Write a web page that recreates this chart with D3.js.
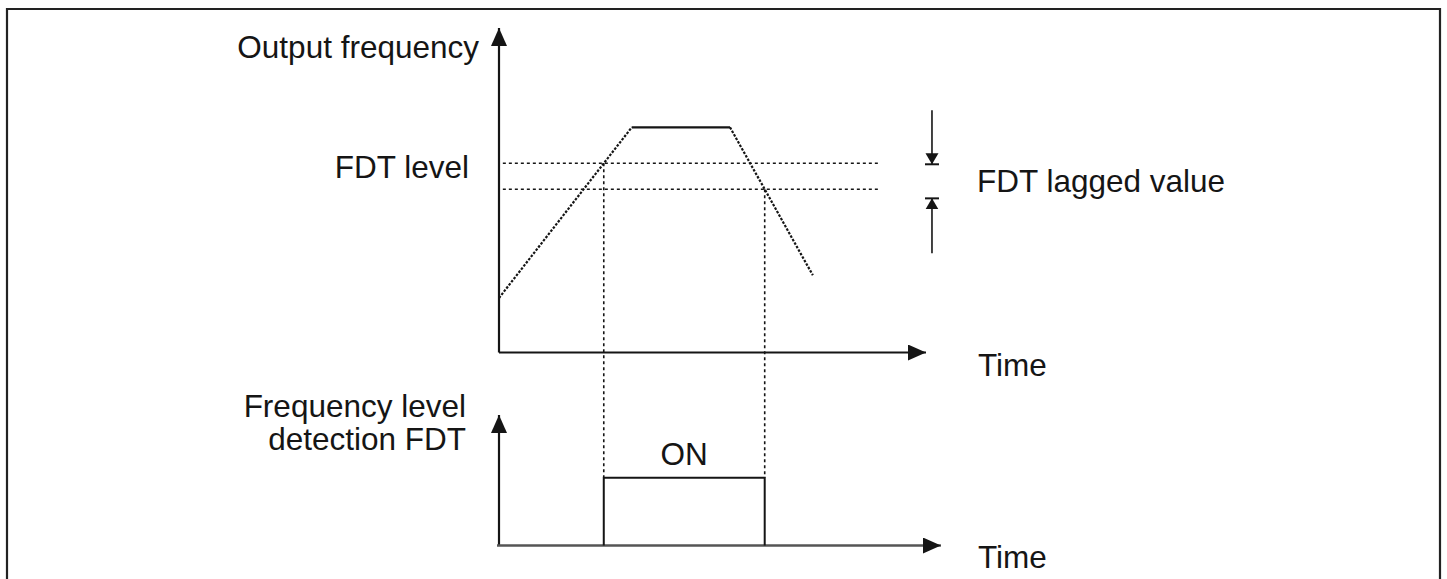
<!DOCTYPE html>
<html>
<head>
<meta charset="utf-8">
<script src="https://cdn.jsdelivr.net/npm/d3@7"></script>
<style>
  html, body { margin: 0; padding: 0; background: #fff; }
  svg { display: block; }
</style>
</head>
<body>
<svg id="chart"></svg>
<script>
// output frequency profile (time, frequency in %)
const freqTime = [0, 31.1, 54.1, 73.5];
const freqValue = [16.8, 69.4, 69.4, 23.8];
const fdtLevel = 58.3;
const fdtLagged = 50.3;
const levelLineSpan = [0.9, 89.2];
const laggedMarks = [58.0, 47.5];   // where the lag arrows stop
const onLevel = 0.52;

const labels = {
  yTop: 'Output frequency',
  fdt: 'FDT level',
  lag: 'FDT lagged value',
  time: 'Time',
  yBottom: ['Frequency level', 'detection FDT'],
  on: 'ON'
};

const width = 1447;
const height = 579;
const ink = '#151515';

const svg = d3.select('#chart')
  .attr('width', width)
  .attr('height', height)
  .attr('viewBox', [0, 0, width, height]);

const x = d3.scaleLinear().domain([0, 100]).range([499, 926]);
const y = d3.scaleLinear().domain([0, 100]).range([352.5, 28]);
const yOn = d3.scaleLinear().domain([0, 1]).range([545.5, 415]);

// frame
svg.append('path')
  .attr('d', `M7,${height + 5}V9H1440V${height + 5}`)
  .attr('fill', 'none')
  .attr('stroke', '#222')
  .attr('stroke-width', 2.2);

const defs = svg.append('defs');
defs.append('marker')
  .attr('id', 'head')
  .attr('markerUnits', 'userSpaceOnUse')
  .attr('viewBox', '0 -8 18 16')
  .attr('refX', 18).attr('refY', 0)
  .attr('markerWidth', 18).attr('markerHeight', 16)
  .attr('orient', 'auto')
  .append('path')
  .attr('d', 'M0,-8L18,0L0,8Z')
  .attr('fill', ink);
defs.append('marker')
  .attr('id', 'small')
  .attr('markerUnits', 'userSpaceOnUse')
  .attr('viewBox', '0 -7 11 14')
  .attr('refX', 11).attr('refY', 0)
  .attr('markerWidth', 11).attr('markerHeight', 14)
  .attr('orient', 'auto')
  .append('path')
  .attr('d', 'M0,-6.5L11,0L0,6.5Z')
  .attr('fill', ink);

// axes
const axisLine = (x1, y1, x2, y2, color, w) => svg.append('line')
  .attr('x1', x1).attr('y1', y1).attr('x2', x2).attr('y2', y2)
  .attr('stroke', color).attr('stroke-width', w)
  .attr('marker-end', 'url(#head)');

axisLine(x(0), y(0), x(0), y(100), ink, 2.2);
axisLine(x(0), y(0), x(100), y(0), ink, 2.2);
axisLine(x(0), yOn(0), x(0), yOn(1), ink, 2.2);
axisLine(x(0) - 2, yOn(0), x(103.5), yOn(0), '#555', 2.6);

// FDT level lines
svg.append('g')
  .selectAll('line')
  .data([fdtLevel, fdtLagged])
  .join('line')
  .attr('x1', x(levelLineSpan[0]))
  .attr('x2', x(levelLineSpan[1]))
  .attr('y1', d => y(d))
  .attr('y2', d => y(d))
  .attr('stroke', ink)
  .attr('stroke-width', 1.6)
  .attr('stroke-dasharray', '3,3');

// frequency profile: ramps dotted, plateau solid
const pts = freqTime.map((t, i) => [x(t), y(freqValue[i])]);
const line = d3.line();
[[0, 1], [2, 3]].forEach(([a, b]) => {
  svg.append('path')
    .attr('d', line([pts[a], pts[b]]))
    .attr('fill', 'none')
    .attr('stroke', ink)
    .attr('stroke-width', 2.2)
    .attr('stroke-dasharray', '2.5,1.5');
});
svg.append('path')
  .attr('d', line([pts[1], pts[2]]))
  .attr('fill', 'none')
  .attr('stroke', ink)
  .attr('stroke-width', 2.2);

// crossing times
const cross = (i, level) => freqTime[i] +
  (freqTime[i + 1] - freqTime[i]) * (level - freqValue[i]) / (freqValue[i + 1] - freqValue[i]);
const tOn = cross(0, fdtLevel);
const tOff = cross(2, fdtLagged);

// projection lines
svg.append('g')
  .selectAll('line')
  .data([[tOn, fdtLevel], [tOff, fdtLagged]])
  .join('line')
  .attr('x1', d => x(d[0]))
  .attr('x2', d => x(d[0]))
  .attr('y1', d => y(d[1]))
  .attr('y2', yOn(onLevel))
  .attr('stroke', ink)
  .attr('stroke-width', 1.6)
  .attr('stroke-dasharray', '3,3');

// ON pulse
svg.append('path')
  .attr('d', line([[x(tOn), yOn(0)], [x(tOn), yOn(onLevel)], [x(tOff), yOn(onLevel)], [x(tOff), yOn(0)]]))
  .attr('fill', 'none')
  .attr('stroke', ink)
  .attr('stroke-width', 2);

// lagged value indicator
const xl = x(101.4);
svg.append('line')
  .attr('x1', xl).attr('x2', xl)
  .attr('y1', y(laggedMarks[0]) - 54).attr('y2', y(laggedMarks[0]))
  .attr('stroke', ink).attr('stroke-width', 1.6)
  .attr('marker-end', 'url(#small)');
svg.append('line')
  .attr('x1', xl).attr('x2', xl)
  .attr('y1', y(laggedMarks[1]) + 55).attr('y2', y(laggedMarks[1]))
  .attr('stroke', ink).attr('stroke-width', 1.6)
  .attr('marker-end', 'url(#small)');
svg.append('g')
  .selectAll('line')
  .data(laggedMarks)
  .join('line')
  .attr('x1', xl - 7).attr('x2', xl + 7)
  .attr('y1', d => y(d)).attr('y2', d => y(d))
  .attr('stroke', ink).attr('stroke-width', 2);

// labels
const font = 'Arial, "Liberation Sans", sans-serif';
const text = (str, tx, ty, anchor) => svg.append('text')
  .attr('x', tx).attr('y', ty)
  .attr('text-anchor', anchor || 'start')
  .attr('font-family', font)
  .attr('font-size', 31.5)
  .attr('fill', ink)
  .text(str);

text(labels.yTop, 479, 58, 'end');
text(labels.fdt, 469, 178, 'end');
text(labels.lag, 977, 192);
text(labels.time, 978, 376);
text(labels.time, 978, 568);
text(labels.on, (x(tOn) + x(tOff)) / 2, 465, 'middle');

svg.append('text')
  .attr('text-anchor', 'end')
  .attr('font-family', font)
  .attr('font-size', 31.5)
  .attr('fill', ink)
  .selectAll('tspan')
  .data(labels.yBottom)
  .join('tspan')
  .attr('x', 466)
  .attr('y', (d, i) => 417 + i * 33)
  .text(d => d);
</script>
</body>
</html>
